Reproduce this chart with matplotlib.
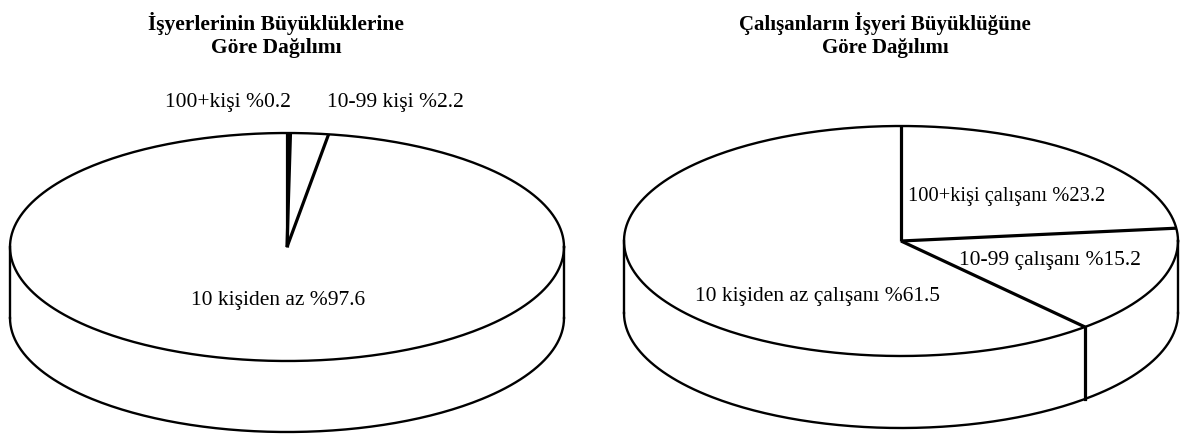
import numpy as np
import matplotlib
matplotlib.use("Agg")
from matplotlib import pyplot as plt

# verilen değerler
titles = ["İşyerlerinin Büyüklüklerine\nGöre Dağılımı",
          "Çalışanların İşyeri Büyüklüğüne\nGöre Dağılımı"]
left_labels = ["100+kişi", "10-99 kişi", "10 kişiden az"]
left_values = [0.2, 2.2, 97.6]
right_labels = ["100+kişi çalışanı", "10-99 çalışanı", "10 kişiden az çalışanı"]
right_values = [23.2, 15.2, 61.5]

W, H = 1183, 437
plt.rcParams['font.family'] = ['Liberation Serif', 'DejaVu Serif']


# 3 boyutlu pasta (sadece çizgi)
def pie3d(ax, values, cx, cy, a, b, d):
    total = sum(values)
    bounds = 90 - 360 * np.concatenate([[0], np.cumsum(values)]) / total
    t = np.radians(np.linspace(0, 360, 400))
    ax.plot(cx + a * np.cos(t), cy - b * np.sin(t), color='black', lw=1.7)
    t = np.radians(np.linspace(180, 360, 200))
    ax.plot(cx + a * np.cos(t), cy + d - b * np.sin(t), color='black', lw=1.7)
    for x in (cx - a, cx + a):
        ax.plot([x, x], [cy, cy + d], color='black', lw=1.7)
    for th in np.radians(bounds[:-1]):
        px, py = cx + a * np.cos(th), cy - b * np.sin(th)
        ax.plot([cx, px], [cy, py], color='black', lw=2.3, solid_capstyle='butt')
        if np.sin(th) < 0:
            ax.plot([px, px], [py, py + d], color='black', lw=2.3)
    return bounds


fig = plt.figure(figsize=(W / 100, H / 100), dpi=100)
ax = fig.add_axes([0, 0, 1, 1])
ax.set_xlim(0, W)
ax.set_ylim(H, 0)
ax.axis('off')

pie3d(ax, left_values, 287, 247, 277, 114, 71)
pie3d(ax, right_values, 901, 241, 277, 115, 72)

ax.text(276, 35, titles[0], ha='center', va='center', fontsize=15.5,
        fontweight='bold', linespacing=1.15)
ax.text(885, 35, titles[1], ha='center', va='center', fontsize=15,
        fontweight='bold', linespacing=1.15)

lpos = [(228, 102), (395, 103), (278, 300)]
lfs = [15.5, 15.5, 15.5]
for lab, v, (x, y), s in zip(left_labels, left_values, lpos, lfs):
    ax.text(x, y, f"{lab} %{v}", ha='center', va='center', fontsize=s)
rpos = [(1007, 196), (1050, 261), (818, 296)]
rfs = [14.8, 15.5, 15.5]
for lab, v, (x, y), s in zip(right_labels, right_values, rpos, rfs):
    ax.text(x, y, f"{lab} %{v}", ha='center', va='center', fontsize=s)

fig.savefig("out.png", dpi=100)
